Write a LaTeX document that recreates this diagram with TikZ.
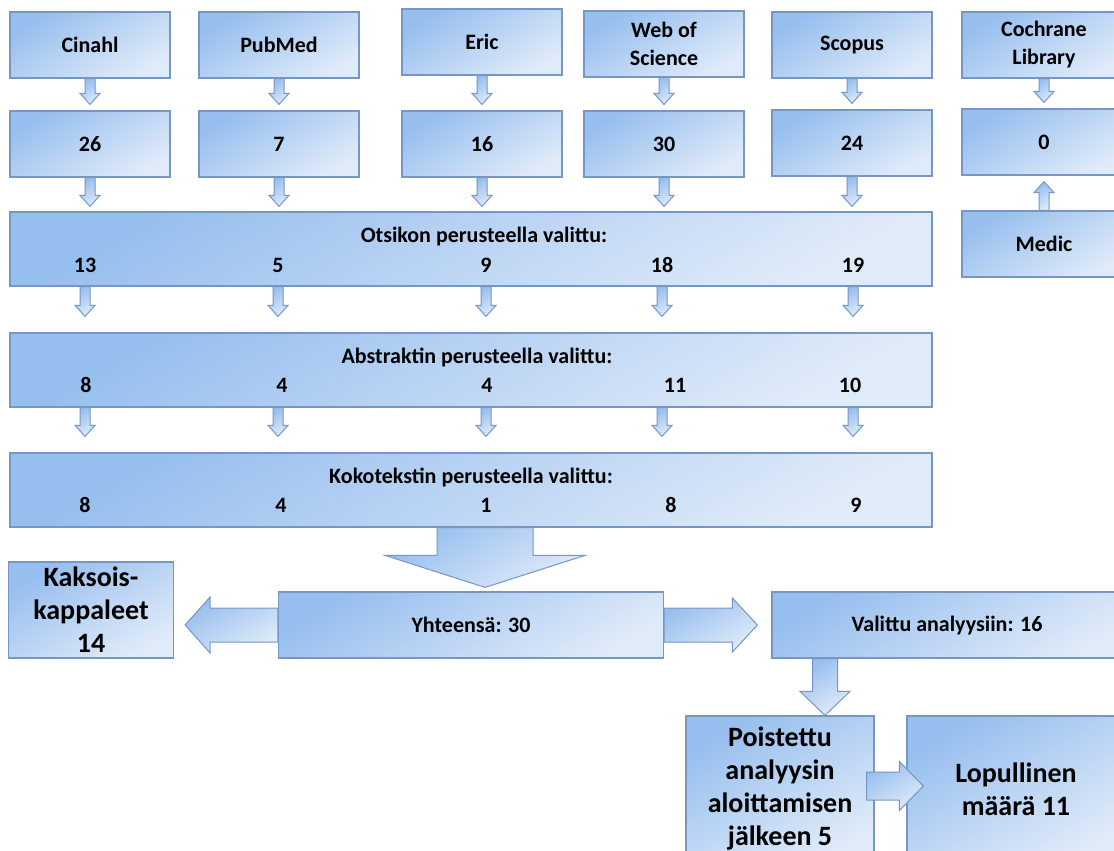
\documentclass[tikz,border=0pt]{standalone}
\usepackage{fontspec}
\setmainfont{Carlito}
\usetikzlibrary{calc}

\definecolor{boxdark}{RGB}{150,190,238}
\definecolor{boxlight}{RGB}{224,235,249}
\definecolor{boxline}{RGB}{118,150,196}

\newcommand{\smallfont}{\fontsize{22}{28}\selectfont\bfseries}
\newcommand{\bigfont}{\fontsize{28}{33}\selectfont\bfseries}

% block arrow: tail, tip, half shaft, half head, head length
\newcommand{\fatarrow}[5]{%
  \path #1 coordinate (tailp) #2 coordinate (tipp)
    ($(tipp)!#5!(tailp)$) coordinate (headp);
  \path[fatarr] ($(tailp)!#3!90:(tipp)$) -- ($(headp)!#3!90:(tipp)$)
    -- ($(headp)!#4!90:(tipp)$) -- (tipp) -- ($(headp)!#4!-90:(tipp)$)
    -- ($(headp)!#3!-90:(tipp)$) -- ($(tailp)!#3!-90:(tipp)$) -- cycle;
}

\tikzset{
  shadebox/.style={draw=boxline, line width=1.2pt,
    top color=boxdark, bottom color=boxlight, shading angle=30},
  dbbox/.style={shadebox, minimum width=160pt, minimum height=66pt,
    inner sep=0pt, align=center, font=\smallfont},
  widebox/.style={shadebox, minimum width=922pt, minimum height=74pt, inner sep=0pt},
  bigbox/.style={shadebox, inner sep=0pt, align=center, font=\bigfont},
  lbl/.style={font=\smallfont, inner sep=0pt},
  fatarr/.style={draw=boxline, line width=1pt,
    top color=boxdark, bottom color=boxlight, shading angle=30},
}

\begin{document}
\begin{tikzpicture}[x=1pt,y=-1pt]
\useasboundingbox (0,0) rectangle (1114,851);

% databases
\node[dbbox] (cin) at (90,45) {Cinahl};
\node[dbbox] (pub) at (279,45) {PubMed};
\node[dbbox] (eric) at (482,42) {Eric};
\node[dbbox] (wos) at (664,44) {Web of\\Science};
\node[dbbox] (scop) at (852,45) {Scopus};
\node[dbbox, minimum width=164pt] (coch) at (1044,45) {Cochrane\\Library};

% hits
\node[dbbox] (n26) at (90,144) {26};
\node[dbbox] (n7) at (279,144) {7};
\node[dbbox] (n16) at (482,144) {16};
\node[dbbox] (n30) at (664,144) {30};
\node[dbbox] (n24) at (852,143) {24};
\node[dbbox, minimum width=164pt] (n0) at (1044,142) {0};
\node[dbbox, minimum width=164pt] (medic) at (1044,244) {Medic};

% screening rows
\node[widebox] (tit) at (471,249) {};
\node[lbl] (titlbl) at (484,237) {Otsikon perusteella valittu:};
\foreach \x/\n [count=\i] in {85/13, 278/5, 486/9, 662/18, 853/19}
  \node[lbl] (tit\i) at (\x,265) {\n};

\node[widebox] (abst) at (471,370) {};
\node[lbl] (abstlbl) at (477,357) {Abstraktin perusteella valittu:};
\foreach \x/\n [count=\i] in {86/8, 282/4, 487/4, 675/11, 850/10}
  \node[lbl] (abst\i) at (\x,385) {\n};

\node[widebox] (koko) at (471,490) {};
\node[lbl] (kokolbl) at (471,477) {Kokotekstin perusteella valittu:};
\foreach \x/\n [count=\i] in {85/8, 281/4, 486/1, 671/8, 856/9}
  \node[lbl] (koko\i) at (\x,505) {\n};

% results
\node[shadebox, minimum width=385pt, minimum height=66pt, font=\smallfont] (yht) at (471,625) {Yhteensä: 30};
\node[bigbox, minimum width=165pt, minimum height=96pt] (kak) at (91,610) {Kaksois-\\kappaleet\\14};
\node[shadebox, minimum width=358pt, minimum height=66pt] (val) at (951,625) {};
\node[lbl] (vallbl) at (947,626) {Valittu analyysiin: 16};
\node[bigbox, minimum width=188pt, minimum height=146pt] (pois) at (780,789) {Poistettu\\analyysin\\aloittamisen\\jälkeen 5};
\node[bigbox, minimum width=218pt, minimum height=146pt] (lop) at (1016,789) {Lopullinen\\määrä 11};

% arrows
\foreach \a/\b in {cin/n26, pub/n7, eric/n16, wos/n30, scop/n24, coch/n0} {
  \fatarrow{(\a.south)}{($(\b.north)+(0,-6)$)}{5pt}{10pt}{11pt}
}
\foreach \b in {n26, n7, n16, n30, n24} {
  \fatarrow{(\b.south)}{($(\b.south |- tit.north)+(0,-5)$)}{5pt}{10pt}{11pt}
}
\fatarrow{(medic.north)}{($(n0.south)+(0,6)$)}{5pt}{10pt}{11pt}
\foreach \i in {1,...,5} {
  \fatarrow{(tit\i |- tit.south)}{($(tit\i |- abst.north)+(0,-16)$)}{5pt}{10pt}{11pt}
  \fatarrow{(tit\i |- abst.south)}{($(tit\i |- koko.north)+(0,-16)$)}{5pt}{10pt}{11pt}
}

\coordinate (mid) at (485,0);
\fatarrow{(mid |- koko.south)}{($(mid |- yht.north)+(0,-4)$)}{48pt}{100pt}{32pt}
\fatarrow{(yht.west)}{($(kak.east |- yht.west)+(11,0)$)}{17pt}{28pt}{25pt}
\fatarrow{(yht.east)}{($(val.west |- yht.east)+(-14,0)$)}{17pt}{27pt}{25pt}
\coordinate (down) at (825,0);
\fatarrow{(down |- val.south)}{(down |- pois.north)}{12.5pt}{25pt}{24pt}
\fatarrow{($(pois.east)+(-8,-3)$)}{($(lop.west |- pois.east)+(17,-3)$)}{14pt}{24.5pt}{24pt}
\end{tikzpicture}
\end{document}
